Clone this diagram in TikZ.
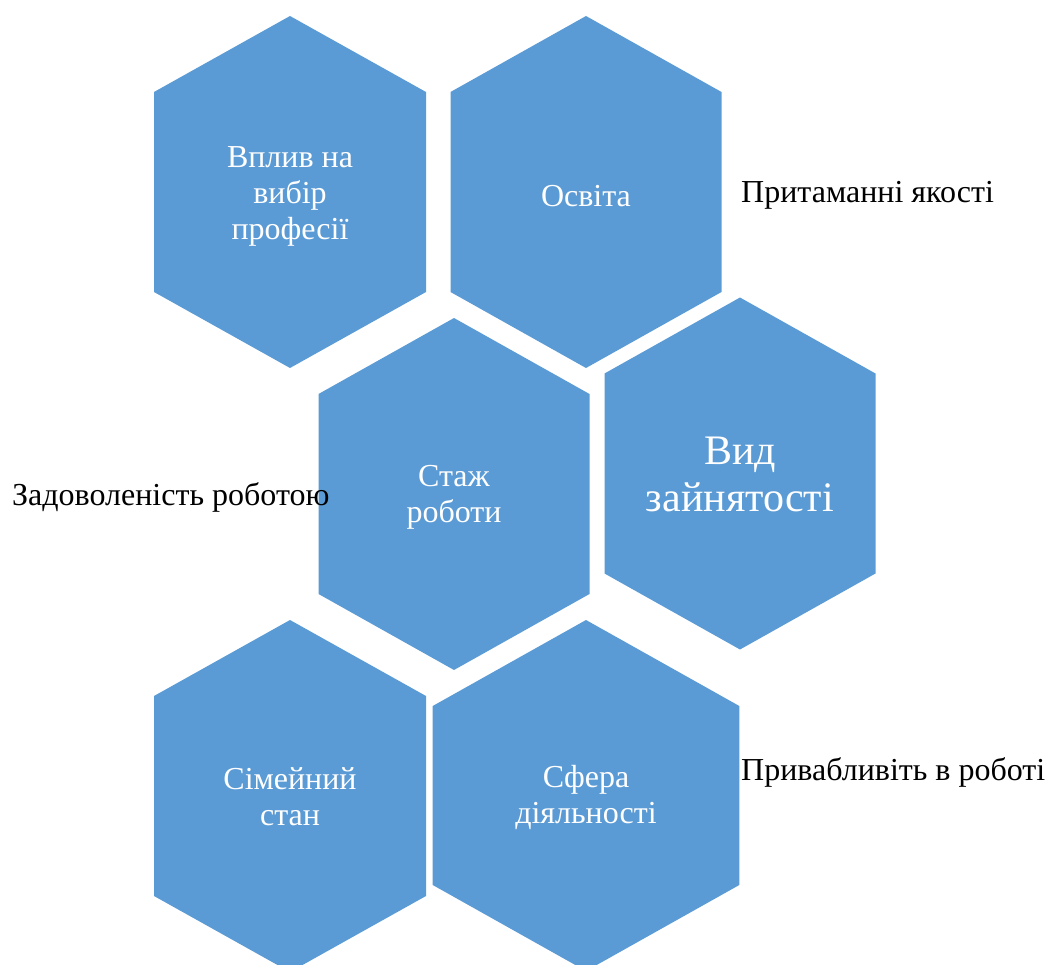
\documentclass[tikz,border=0pt]{standalone}
\usepackage{fontspec}
\setmainfont{Liberation Serif}
\usepackage{xcolor}
\usetikzlibrary{positioning}
\definecolor{cellblue}{HTML}{5B9BD5}
\tikzset{
    cell/.style={fill=cellblue},
    lbl/.style={text=white, align=center, inner sep=0pt, font=\fontsize{32}{36}\selectfont},
    big/.style={text=white, align=center, inner sep=0pt, font=\fontsize{42}{47}\selectfont},
    side/.style={text=black, anchor=west, inner sep=0pt, font=\fontsize{32}{36}\selectfont}
}

\begin{document}
\begin{tikzpicture}[x=1pt, y=-1pt]
        \useasboundingbox (0,0) rectangle (1058,965);
        \begin{scope}
        \clip (0,0) rectangle (1058,965);
        \fill[cell] (290,16) -- ++(136,76) -- ++(0,200) -- ++(-136,76) -- ++(-136,-76) -- ++(0,-200) -- cycle;
        \fill[cell] (586,16) -- ++(135.5,76) -- ++(0,200) -- ++(-135.5,76) -- ++(-135.5,-76) -- ++(0,-200) -- cycle;
        \fill[cell] (454,318) -- ++(135.5,76) -- ++(0,200) -- ++(-135.5,76) -- ++(-135.5,-76) -- ++(0,-200) -- cycle;
        \fill[cell] (740,297.5) -- ++(135.5,76) -- ++(0,200) -- ++(-135.5,76) -- ++(-135.5,-76) -- ++(0,-200) -- cycle;
        \fill[cell] (290,620) -- ++(136,76) -- ++(0,200) -- ++(-136,76) -- ++(-136,-76) -- ++(0,-200) -- cycle;
        \fill[cell] (586,620) -- ++(153.3,86) -- ++(0,179) -- ++(-153.3,86) -- ++(-153.3,-86) -- ++(0,-179) -- cycle;
        \end{scope}

        \node[lbl] (vplyv) at (290,196) {Вплив на\\вибір\\професії};
        \node[lbl] (osvita) at (586,196) {Освіта};
        \node[lbl] (stazh) at (454,497) {Стаж\\роботи};
        \node[big] (vyd) at (740,474) {Вид\\зайнятості};
        \node[lbl] (simeinyi) at (290,797) {Сімейний\\стан};
        \node[lbl] (sfera) at (586,797) {Сфера\\діяльності};

        \node[side] (yakosti) at (741,195) {Притаманні якості};
        \node[side] (zadov) at (12,497) {Задоволеність роботою};
        \node[side] (pryvab) at (741,772) {Привабливіть в роботі};
    \end{tikzpicture}
\end{document}
